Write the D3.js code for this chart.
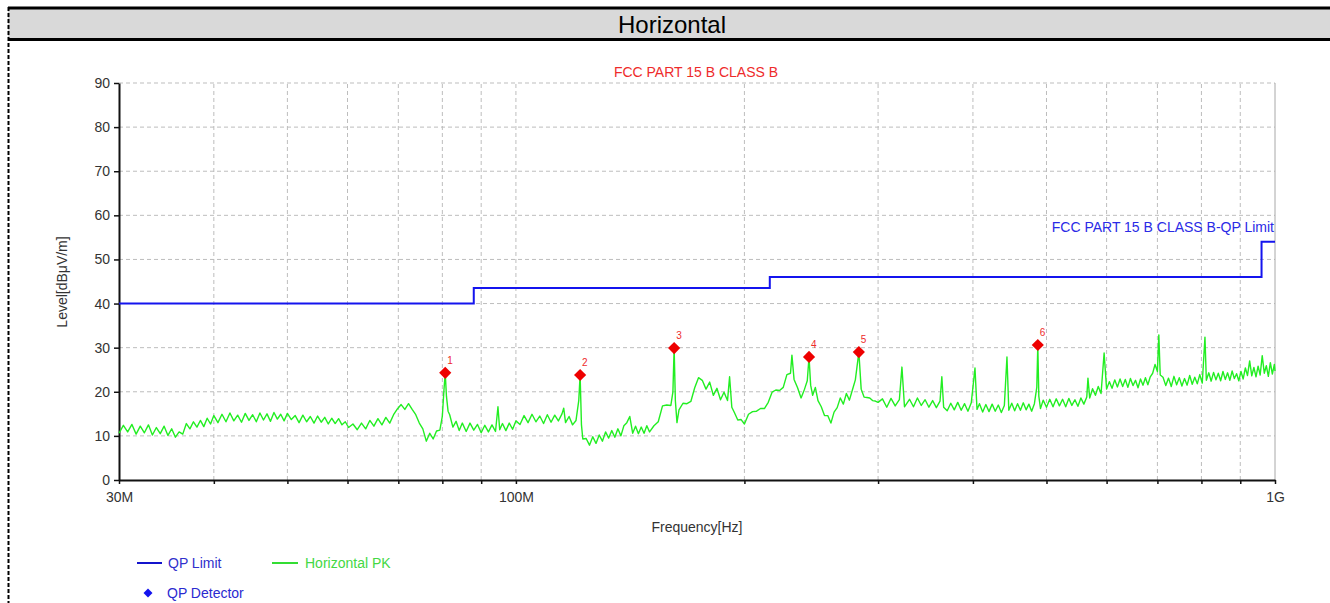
<!DOCTYPE html>
<html>
<head>
<meta charset="utf-8">
<script src="https://cdn.jsdelivr.net/npm/d3@7/dist/d3.min.js"></script>
<style>
body { margin: 0; background: #fff; }
text { font-family: Arial, "Liberation Sans", sans-serif; }
</style>
</head>
<body>
<div id="chart"></div>
<script>
//limit line, each level holds until the next frequency (MHz, dBuV/m)
var limitFreq = [30, 88, 216, 960, 1000];
var limitLevel = [40, 43.5, 46, 54, 54];

//QP detector readings
var qpNo = [1, 2, 3, 4, 5, 6];
var qpFreq = [80.7, 121.5, 161.6, 243.3, 283, 487];
var qpLevel = [24.3, 23.8, 29.9, 27.9, 29.0, 30.6];

//horizontal peak trace, [MHz, dBuV/m]
var pkTrace = [
    [30,10.6],[30.4,12.4],[30.8,10.9],[31.2,12.6],[31.6,10.4],[32,12.2],[32.4,10.7],[32.8,12.5],[33.2,10.2],[33.6,11.9],
    [34,10.5],[34.4,12.2],[34.8,10.1],[35.2,11.6],[35.6,9.7],[36,10.9],[36.4,10.4],[36.8,12.8],[37.2,11.6],[37.6,13.2],
    [38,12.0],[38.4,13.5],[38.8,12.1],[39.2,14.0],[39.6,12.7],[40,14.6],
    [40.5,13.0],[41,14.9],[41.5,13.2],[42,15.2],[42.5,13.4],[43,14.7],[43.5,13.1],[44,15.1],[44.5,13.5],[45,14.8],
    [45.5,13.2],[46,15.2],[46.5,13.6],[47,15.0],[47.5,13.3],[48,15.3],[48.5,13.8],[49,14.9],[49.5,13.4],[50,15.1],
    [50.6,13.7],[51.2,14.6],[51.8,13.0],[52.4,14.7],[53,13.2],[53.6,14.4],[54.2,12.9],[54.8,14.5],[55.4,13.1],[56,14.2],
    [56.6,12.7],[57.2,14.0],[57.8,12.8],[58.4,13.9],[59,12.5],[59.6,13.2],[60.2,11.9],
    [61,12.7],[61.8,11.4],[62.6,12.9],[63.4,11.6],[64.2,13.5],[65,12.2],[65.8,13.9],[66.6,12.5],[67.4,14.2],[68.2,12.9],
    [69,14.8],[69.8,16.1],[70.6,17.1],[71.4,16.0],[72.2,17.3],[73,16.0],[73.8,14.8],[74.6,12.9],[75.4,11.6],[76.2,8.8],
    [77,10.6],[77.8,9.3],[78.6,11.1],[79.4,11.3],[80,14.5],[80.4,20.5],[80.7,24.3],[81,19.0],[81.4,15.6],
    [81.8,14.8],[82.6,12.0],[83.4,13.3],[84.2,11.2],[85,12.9],[86,11.0],[87,12.9],[88,11.3],[89,12.6],[90,10.7],
    [91,12.4],[92,10.9],[93,12.5],[94,11.0],[94.7,16.6],[95.2,11.4],[96,12.8],[97,11.2],[98,12.9],[99,11.5],[100,13.4],
    [101.25,12.6],[102.5,14.6],[103.75,13.0],[105,14.9],[106.25,13.2],[107.5,14.5],[108.75,12.8],[110,14.8],[111.25,13.1],[112.5,14.7],
    [113.75,13.4],[115,15.0],[115.6,16.3],[116.25,13.0],[117.5,14.4],[118.75,12.5],[120,13.5],[121,18.0],[121.5,23.8],[122,12.5],
    [122.5,9.3],[123.75,9.4],[125,7.9],[126.25,9.8],[127.5,8.3],[128.75,10.2],[130,8.8],[131.25,10.9],[132.5,9.5],[133.75,11.2],
    [135,9.7],[136.25,11.6],[137.5,10.0],[138.75,12.3],[140,13.0],[141.25,14.4],[142.5,10.6],[143.75,12.2],[145,10.5],[146.25,12.0],
    [147.5,10.6],[148.75,12.3],[150,10.9],
    [152,12.3],[154,13.2],[156,16.8],[158,17.0],[160,16.9],[161,20.0],[161.6,29.9],[162.2,18.0],[163,13.0],[164,15.9],
    [166,17.4],[168,17.3],[170,17.8],[172,20.9],[174,23.2],[176,22.6],[178,20.6],[180,22.2],[182,19.2],[184,20.8],
    [186,18.2],[188,19.9],[190,18.0],[191.2,23.4],[192.5,16.5],[194,15.3],[196,13.6],[198,13.7],[200,12.7],
    [202.5,14.9],[205,15.5],[207.5,15.6],[210,16.2],[212.5,16.2],[215,17.6],[217.5,19.9],[220,20.4],[222.5,20.3],[225,21.0],
    [227.5,23.9],[230,24.2],[231,28.3],[232.5,22.8],[235,20.9],[237.5,18.6],[240,20.6],[242,22.5],[243.3,27.9],[244.5,21.5],
    [246,19.2],[248,21.0],[250,18.0],[252.5,16.6],[255,14.6],[257.5,14.6],[260,12.9],[262.5,15.4],[265,16.4],[267.5,18.6],
    [270,17.2],[272.5,19.6],[275,18.1],[277.5,20.4],[280,22.7],[283,29.0],[285,20.6],[287.5,18.8],[290,18.7],[292.5,18.6],
    [295,18.0],[297.5,17.9],[300,17.6],
    [304,18.4],[308,16.5],[312,18.5],[316,16.8],[320,18.2],[322.5,25.6],[325,16.6],[330,18.3],[334,16.6],[338,18.6],
    [342,16.9],[346,18.2],[350,16.5],[354,18.0],[358,16.4],[362,17.9],[364,23.4],[366,16.5],[370,15.7],[374,17.4],
    [378,15.9],[382,17.6],[386,15.8],[390,17.3],[394,15.6],[398,17.5],[402.5,25.4],[405,16.0],
    [408,17.3],[412,15.4],[416,17.1],[420,15.5],[424,17.2],[428,15.6],[432,17.0],[436,15.3],[440,16.9],[443.5,27.9],
    [446,15.8],[450,17.4],[454,15.7],[458,17.3],[462,15.8],[466,17.5],[470,15.9],[474,17.2],[478,15.6],[482,17.3],
    [485.5,21.0],[487,30.6],[488.5,19.0],[491,16.2],[495,18.1],[500,16.5],
    [505,18.3],[510,16.6],[515,18.4],[520,16.8],[525,18.3],[530,16.6],[535,18.5],[540,16.9],[545,18.2],[550,16.7],
    [555,18.6],[560,17.2],[565,18.8],[567,23.1],[570,18.6],[575,20.7],[580,19.2],[585,21.2],[590,19.6],[595.5,28.8],
    [600,20.6],[605,22.3],[610,20.8],[615,22.7],[620,21.1],[625,22.9],[630,21.2],[635,22.8],[640,21.0],[645,23.0],
    [650,21.4],[655,22.6],[660,20.9],[665,22.9],[670,21.5],[675,23.2],[680,21.6],[685,23.4],[690,24.2],[695,26.2],
    [700,24.6],[703,32.9],[706,23.8],
    [712,23.3],[718,21.4],[724,23.1],[730,21.2],[736,23.5],[742,21.6],[748,23.2],[754,21.3],[760,23.0],[766,21.5],
    [772,23.7],[778,21.7],[784,23.3],[790,21.8],[796,23.9],[802,22.0],[808.6,32.4],[812,22.6],[818,24.3],[824,22.4],
    [830,24.4],[836,22.7],[842,24.2],[848,22.5],[854,24.6],[860,22.8],[866,24.3],[872,22.6],[878,24.7],[884,23.0],
    [890,24.1],[896,22.5],[902,24.6],[908,22.9],[914,25.4],[920,23.7],[926,27.0],[932,23.6],[938,25.5],[944,23.4],
    [950,25.8],[956,23.8],[962,28.2],[968,24.2],[974,25.9],[980,23.5],[986,26.6],[992,24.0],[998,26.2],[1000,24.7]
];

//axis ticks
var yTickValues = [0, 10, 20, 30, 40, 50, 60, 70, 80, 90];
var xGridFreq = [30, 40, 50, 60, 70, 80, 90, 100, 200, 300, 400, 500, 600, 700, 800, 900, 1000];
var xLabelFreq = [30, 100, 1000];
var xLabelText = ["30M", "100M", "1G"];

var width = 1330, height = 603;
var svg = d3.select("#chart").append("svg").attr("width", width).attr("height", height);

//header band with the title
svg.append("rect").attr("x", 8).attr("y", 9).attr("width", width - 8).attr("height", 30).attr("fill", "#d9d9d9");
svg.append("line").attr("x1", 8).attr("x2", width).attr("y1", 8).attr("y2", 8).attr("stroke", "#000").attr("stroke-width", 3);
svg.append("line").attr("x1", 8).attr("x2", width).attr("y1", 39.5).attr("y2", 39.5).attr("stroke", "#000").attr("stroke-width", 3);
svg.append("line").attr("x1", 8.5).attr("x2", 8.5).attr("y1", 7).attr("y2", height)
    .attr("stroke", "#000").attr("stroke-width", 2).attr("stroke-dasharray", "4,2");
svg.append("text").attr("x", 672).attr("y", 33).attr("text-anchor", "middle")
    .attr("font-size", "24px").attr("fill", "#000").text("Horizontal");

//scales for the plot area
var x = d3.scaleLog().domain([30, 1000]).range([119, 1275]);
var y = d3.scaleLinear().domain([0, 90]).range([480, 83]);

var plot = svg.append("g");

//dashed grid
plot.selectAll(".hgrid").data(yTickValues.slice(1)).enter().append("line")
    .attr("x1", x(30)).attr("x2", x(1000))
    .attr("y1", function(d) { return y(d); }).attr("y2", function(d) { return y(d); })
    .attr("stroke", "#bdbdbd").attr("stroke-dasharray", "4,3");
plot.selectAll(".vgrid").data(xGridFreq.slice(1)).enter().append("line")
    .attr("x1", function(d) { return x(d); }).attr("x2", function(d) { return x(d); })
    .attr("y1", y(0)).attr("y2", y(90))
    .attr("stroke", function(d) { return d == 1000 ? "#a8a8a8" : "#bdbdbd"; })
    .attr("stroke-dasharray", function(d) { return d == 1000 ? null : "4,3"; });

//axes
var yAxis = plot.append("g").attr("transform", "translate(" + x(30) + ",0)")
    .call(d3.axisLeft(y).tickValues(yTickValues).tickSize(5).tickSizeOuter(0).tickPadding(4));
var xAxis = plot.append("g").attr("transform", "translate(0," + y(0) + ")")
    .call(d3.axisBottom(x).tickValues(xGridFreq).tickSize(4).tickSizeOuter(0).tickPadding(8)
        .tickFormat(function(d) {
            var i = xLabelFreq.indexOf(d);
            return i >= 0 ? xLabelText[i] : "";
        }));
[yAxis, xAxis].forEach(function(a) {
    a.select(".domain").attr("stroke", "#111").attr("stroke-width", 2);
    a.selectAll(".tick line").attr("stroke", "#111").attr("stroke-width", 1.5);
    a.selectAll("text").attr("font-size", "14px").attr("fill", "#333")
        .style("font-family", "Arial, 'Liberation Sans', sans-serif");
});

//axis titles
plot.append("text").attr("transform", "translate(67,282) rotate(-90)").attr("text-anchor", "middle")
    .attr("font-size", "14px").attr("fill", "#333").text("Level[dBμV/m]");
plot.append("text").attr("x", 697).attr("y", 532).attr("text-anchor", "middle")
    .attr("font-size", "14px").attr("fill", "#333").text("Frequency[Hz]");

//chart title and limit name
plot.append("text").attr("x", 696).attr("y", 77).attr("text-anchor", "middle")
    .attr("font-size", "14px").attr("fill", "#ee2b2b").text("FCC PART 15 B CLASS B");
plot.append("text").attr("x", 1274).attr("y", 232).attr("text-anchor", "end")
    .attr("font-size", "14px").attr("fill", "#2a2ae6").text("FCC PART 15 B CLASS B-QP Limit");

//peak trace
var pkLine = d3.line().x(function(d) { return x(d[0]); }).y(function(d) { return y(d[1]); });
plot.append("path").datum(pkTrace).attr("d", pkLine)
    .attr("fill", "none").attr("stroke", "#22ee22").attr("stroke-width", 1.4).attr("stroke-linejoin", "round");

//limit line drawn as steps
var limitData = limitFreq.map(function(f, i) { return [f, limitLevel[i]]; });
var limitLine = d3.line().curve(d3.curveStepAfter)
    .x(function(d) { return x(d[0]); }).y(function(d) { return y(d[1]); });
plot.append("path").datum(limitData).attr("d", limitLine)
    .attr("fill", "none").attr("stroke", "#1414ee").attr("stroke-width", 2);

//QP detector markers
var qpData = qpFreq.map(function(f, i) { return {no: qpNo[i], f: f, level: qpLevel[i]}; });
var diamond = d3.symbol().type(d3.symbolSquare).size(74);
var markers = plot.selectAll(".qp").data(qpData).enter().append("g")
    .attr("transform", function(d) { return "translate(" + x(d.f) + "," + y(d.level) + ")"; });
markers.append("path").attr("d", diamond).attr("transform", "rotate(45)").attr("fill", "#ee0000");
markers.append("text").attr("x", 2).attr("y", -9).attr("font-size", "10px").attr("fill", "#ee2b2b")
    .text(function(d) { return d.no; });

//legend
var legend = svg.append("g");
legend.append("line").attr("x1", 137).attr("x2", 162).attr("y1", 563).attr("y2", 563)
    .attr("stroke", "#1414cc").attr("stroke-width", 2);
legend.append("text").attr("x", 168).attr("y", 568).attr("font-size", "14px").attr("fill", "#3030cc").text("QP Limit");
legend.append("line").attr("x1", 272).attr("x2", 298).attr("y1", 563).attr("y2", 563)
    .attr("stroke", "#33dd33").attr("stroke-width", 2);
legend.append("text").attr("x", 305).attr("y", 568).attr("font-size", "14px").attr("fill", "#44d844").text("Horizontal PK");
legend.append("path").attr("d", d3.symbol().type(d3.symbolSquare).size(40))
    .attr("transform", "translate(148,593) rotate(45)").attr("fill", "#1414ee");
legend.append("text").attr("x", 167).attr("y", 598).attr("font-size", "14px").attr("fill", "#2a2ad0").text("QP Detector");
</script>
</body>
</html>
